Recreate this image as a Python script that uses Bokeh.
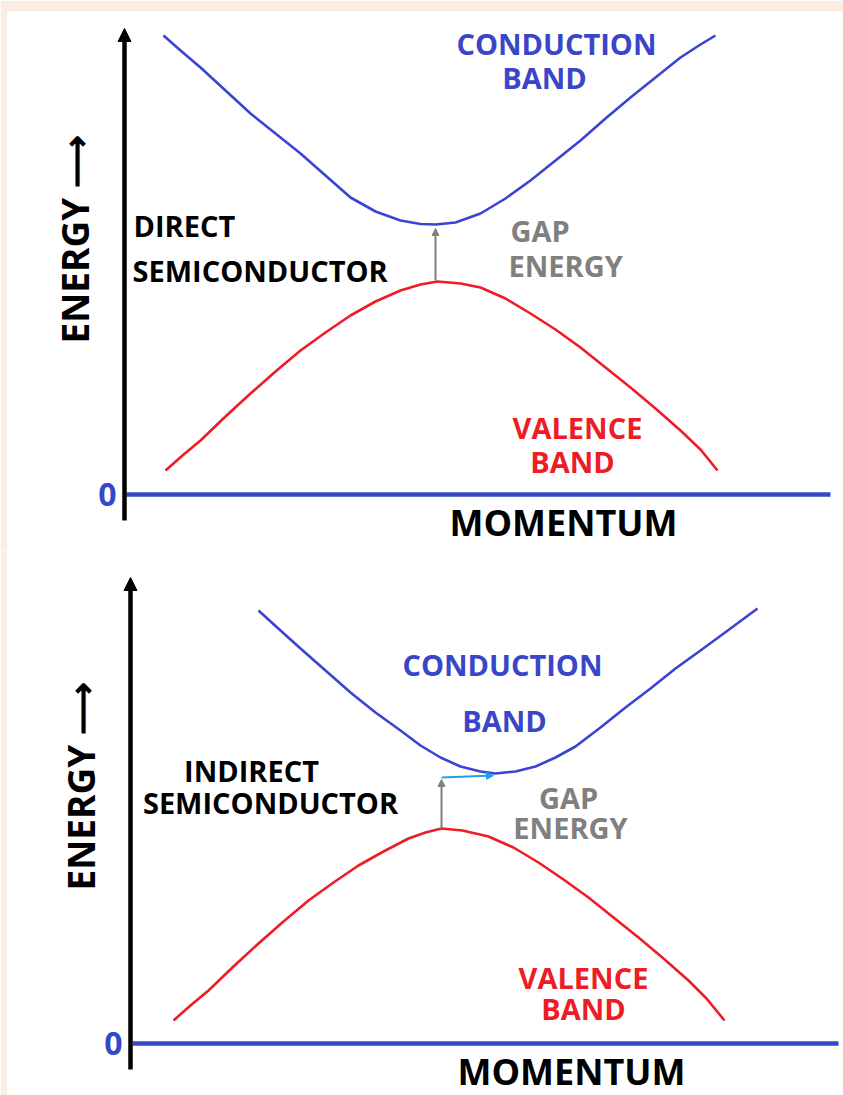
import math
from bokeh.plotting import figure
from bokeh.layouts import column
from bokeh.models import Range1d, Arrow, NormalHead
from bokeh.core.properties import value
from bokeh.embed import file_html
from bokeh.resources import INLINE

# ---------------- data (momentum / energy, arbitrary units) ----------------
# Direct semiconductor (top panel)
top_cb_k = [0.39, 0.56, 0.76, 1.01, 1.26, 1.51, 1.76, 2.01, 2.26, 2.51, 2.76, 2.96, 3.11,
            3.31, 3.56, 3.81, 4.06, 4.31, 4.56, 4.81, 5.06, 5.31, 5.56, 5.76, 5.91]
top_cb_e = [4.59, 4.44, 4.27, 4.04, 3.81, 3.61, 3.41, 3.19, 2.97, 2.83, 2.74, 2.705, 2.70,
            2.72, 2.81, 2.96, 3.14, 3.34, 3.54, 3.76, 3.97, 4.17, 4.37, 4.50, 4.59]
top_vb_k = [0.41, 0.58, 0.76, 1.01, 1.26, 1.51, 1.76, 2.01, 2.26, 2.51, 2.76, 2.96, 3.13,
            3.36, 3.56, 3.81, 4.06, 4.31, 4.56, 4.81, 5.06, 5.31, 5.56, 5.76, 5.93]
top_vb_e = [0.24, 0.39, 0.54, 0.78, 1.01, 1.23, 1.44, 1.62, 1.79, 1.93, 2.04, 2.10, 2.13,
            2.11, 2.07, 1.96, 1.81, 1.65, 1.47, 1.27, 1.07, 0.86, 0.64, 0.45, 0.24]
top_gap_k = 3.11
top_gap_from = 2.14
top_gap_to = 2.66
top_axis_end = 7.06

# Indirect semiconductor (bottom panel)
bot_cb_k = [1.28, 1.50, 1.70, 1.95, 2.20, 2.45, 2.70, 2.90, 3.10, 3.30, 3.50, 3.65,
            3.85, 4.05, 4.25, 4.45, 4.70, 4.95, 5.20, 5.45, 5.70, 6.00, 6.27]
bot_cb_e = [4.33, 4.13, 3.95, 3.73, 3.51, 3.31, 3.13, 2.98, 2.86, 2.77, 2.72, 2.70,
            2.72, 2.77, 2.86, 2.97, 3.16, 3.36, 3.55, 3.75, 3.93, 4.15, 4.35]
bot_vb_k = [0.43, 0.60, 0.78, 1.03, 1.28, 1.53, 1.78, 2.03, 2.28, 2.53, 2.78, 2.95, 3.11,
            3.32, 3.58, 3.83, 4.08, 4.33, 4.58, 4.83, 5.08, 5.33, 5.58, 5.76, 5.94]
bot_vb_e = [0.23, 0.38, 0.53, 0.77, 1.00, 1.22, 1.43, 1.61, 1.78, 1.92, 2.05, 2.11, 2.15,
            2.13, 2.07, 1.96, 1.81, 1.64, 1.46, 1.26, 1.06, 0.85, 0.63, 0.45, 0.23]
bot_gap_k = 3.11
bot_gap_from = 2.15
bot_gap_to = 2.64
bot_shift_k_end = 3.63
bot_shift_e = [2.66, 2.68]
bot_axis_end = 7.08

# ---------------- styles ----------------
FONT = value("Open Sans")
BLUE_LINE = "#3B43D2"
BLUE_TEXT = "#3A46C8"
AXIS_BLUE = "#3548C8"
RED = "#EE1C25"
GRAY = "#808080"
CYAN = "#1EA0E8"
PEACH = "#FBEDE3"
LBL = "29px"
BIG = "36px"
AXLBL = "37px"
ZERO = "32px"


def base_fig(w, h, xr, yr, top_border):
    p = figure(width=w, height=h, x_range=Range1d(*xr), y_range=Range1d(*yr),
               output_backend="svg", toolbar_location=None,
               x_axis_location=None, y_axis_location=None,
               min_border_left=7, min_border_right=0, min_border_bottom=0,
               min_border_top=top_border)
    p.grid.visible = False
    p.outline_line_color = None
    p.background_fill_color = "white"
    p.border_fill_color = PEACH
    return p


def label(p, x, y, txt, color, size=LBL, align="center", angle=0.0):
    p.text(x=[x], y=[y], text=[txt], text_color=color, text_font=FONT,
           text_font_size=size, text_font_style="bold", text_align=align,
           text_baseline="middle", angle=angle)


def panel(p, cb_k, cb_e, vb_k, vb_e, axis_end):
    # energy axis (black, with arrow)
    p.add_layout(Arrow(end=NormalHead(size=13, fill_color="black", line_color="black"),
                       x_start=0, y_start=-0.26, x_end=0, y_end=4.66,
                       line_color="black", line_width=4.5))
    # momentum axis (blue zero line)
    p.segment(x0=[0.02], y0=[0], x1=[axis_end], y1=[0], line_color=AXIS_BLUE, line_width=4.5)
    # bands
    p.line(cb_k, cb_e, line_color=BLUE_LINE, line_width=2.6, line_join="round")
    p.line(vb_k, vb_e, line_color=RED, line_width=2.6, line_join="round")


# ---------------- top panel ----------------
top = base_fig(843, 550, (-1.17, 7.19), (-0.56, 4.83), 11)
panel(top, top_cb_k, top_cb_e, top_vb_k, top_vb_e, top_axis_end)
top.add_layout(Arrow(end=NormalHead(size=7, fill_color=GRAY, line_color=GRAY),
                     x_start=top_gap_k, y_start=top_gap_from, x_end=top_gap_k, y_end=top_gap_to,
                     line_color=GRAY, line_width=2))
label(top, 4.32, 4.515, "CONDUCTION", BLUE_TEXT)
label(top, 4.20, 4.17, "BAND", BLUE_TEXT)
label(top, 0.09, 2.69, "DIRECT", "black", align="left")
label(top, 0.08, 2.24, "SEMICONDUCTOR", "black", align="left")
label(top, 3.86, 2.64, "GAP", GRAY, align="left")
label(top, 3.84, 2.29, "ENERGY", GRAY, align="left")
label(top, 4.53, 0.67, "VALENCE", RED)
label(top, 4.48, 0.33, "BAND", RED)
label(top, 4.39, -0.28, "MOMENTUM", "black", size=BIG)
label(top, -0.17, 0.0, "0", AXIS_BLUE, size=ZERO)
label(top, -0.505, 1.51, "ENERGY ⟶", "black", size=AXLBL, align="left", angle=math.pi / 2)

# ---------------- bottom panel ----------------
bot = base_fig(843, 545, (-1.23, 7.13), (-0.52, 4.93), 0)
panel(bot, bot_cb_k, bot_cb_e, bot_vb_k, bot_vb_e, bot_axis_end)
bot.add_layout(Arrow(end=NormalHead(size=7, fill_color=GRAY, line_color=GRAY),
                     x_start=bot_gap_k, y_start=bot_gap_from, x_end=bot_gap_k, y_end=bot_gap_to,
                     line_color=GRAY, line_width=2))
bot.add_layout(Arrow(end=NormalHead(size=7, fill_color=CYAN, line_color=CYAN),
                     x_start=bot_gap_k, y_start=bot_shift_e[0], x_end=bot_shift_k_end, y_end=bot_shift_e[1],
                     line_color=CYAN, line_width=2.2))
label(bot, 3.72, 3.79, "CONDUCTION", BLUE_TEXT)
label(bot, 3.74, 3.23, "BAND", BLUE_TEXT)
label(bot, 1.21, 2.73, "INDIRECT", "black")
label(bot, 1.40, 2.41, "SEMICONDUCTOR", "black")
label(bot, 4.38, 2.46, "GAP", GRAY)
label(bot, 4.40, 2.16, "ENERGY", GRAY)
label(bot, 4.53, 0.66, "VALENCE", RED)
label(bot, 4.53, 0.35, "BAND", RED)
label(bot, 4.41, -0.28, "MOMENTUM", "black", size=BIG)
label(bot, -0.17, 0.0, "0", AXIS_BLUE, size=ZERO)
label(bot, -0.50, 1.53, "ENERGY ⟶", "black", size=AXLBL, align="left", angle=math.pi / 2)

layout = column(top, bot, spacing=0)
open("out.html", "w").write(file_html(layout, INLINE))
